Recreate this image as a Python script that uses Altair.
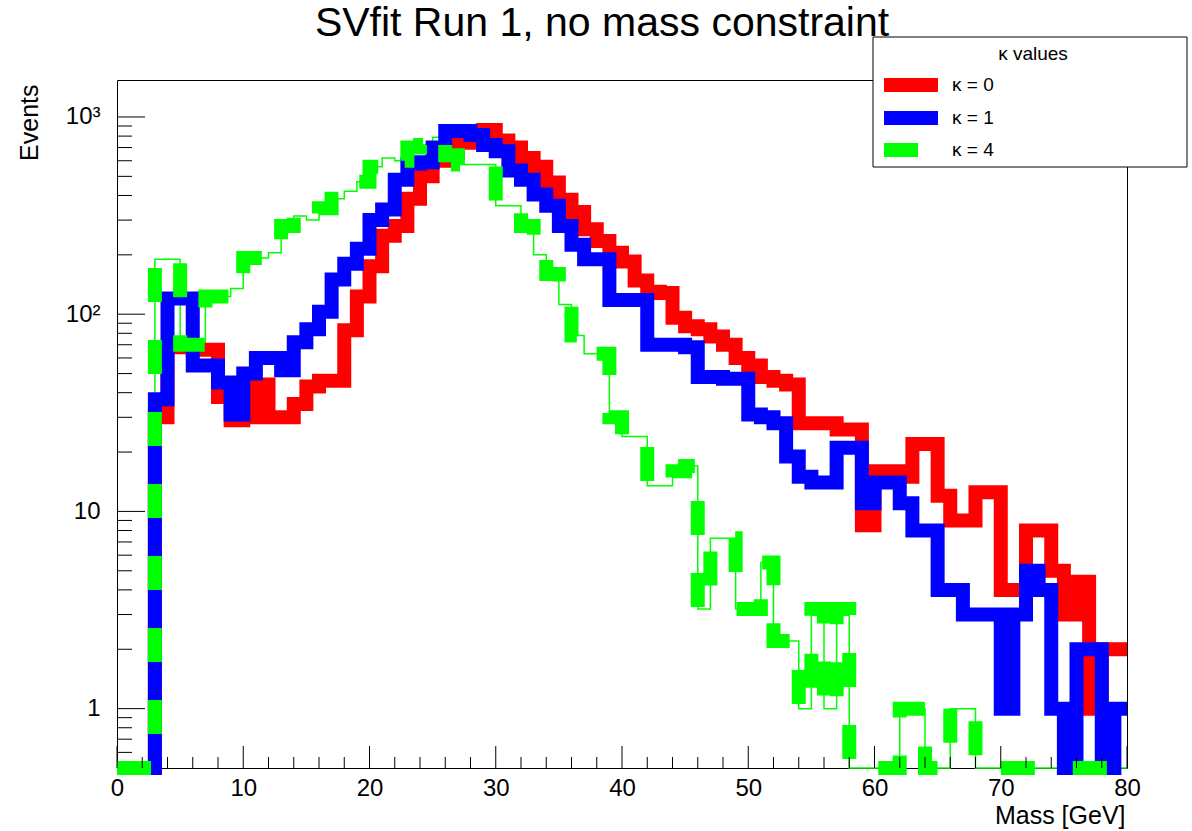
import altair as alt
import pandas as pd

# ---------------- data ----------------
EDGES = list(range(0, 81))          # bin edges, 1 GeV bins from 0 to 80 GeV

K0 = [0, 0, 0, 30, 68, 68, 66, 66, 38, 29,
      30, 44, 30, 30, 35, 43, 46, 46, 83, 123,
      175, 250, 280, 385, 500, 600, 660, 740, 850, 860,
      760, 700, 620, 560, 465, 380, 330, 270, 235, 205,
      185, 148, 130, 128, 96, 87, 84, 77, 70, 60,
      55, 48, 46, 44, 28, 28, 28, 26, 26, 8.5,
      16, 16, 15, 22, 22, 12, 9, 9, 12.5, 12.5,
      4, 4, 8, 8, 5, 3, 4.4, 1, 2, 2]

K1 = [0, 0, 0, 37, 120, 120, 55, 55, 45, 31,
      50, 60, 60, 52, 72, 84, 103, 150, 180, 215,
      300, 340, 480, 580, 590, 700, 850, 850, 810, 720,
      670, 535, 480, 405, 355, 280, 225, 190, 190, 118,
      118, 118, 70, 70, 70, 68, 48, 48, 47, 47,
      31, 30, 28, 19, 15, 14, 14, 21, 21, 11,
      14, 14, 11, 8, 8, 4, 4, 3, 3, 3,
      1, 3, 5, 4, 1, 0, 2, 2, 0, 1]

K4 = [0, 0, 0, 190, 190, 70, 70, 123, 123, 135,
      193, 193, 205, 280, 315, 300, 345, 385, 420, 470,
      560, 620, 600, 700, 720, 790, 640, 575, 575, 575,
      355, 355, 280, 200, 160, 112, 78, 63, 63, 30,
      24, 24, 13.5, 13.5, 16, 17, 3.2, 7.3, 7.3, 3.2,
      3.2, 5.5, 2.2, 2.2, 1, 3.2, 1, 3.2, 0, 0,
      0, 0, 1, 1, 0, 0, 1, 1, 0, 0,
      0, 0, 0, 0, 0, 0, 0, 0, 0, 0]

SERIES = ["κ = 0", "κ = 1", "κ = 4"]
COLORS = ["#ff0000", "#0000ff", "#00ff00"]
TITLE = "SVfit Run 1, no mass constraint"

X_MAJOR = [0, 10, 20, 30, 40, 50, 60, 70, 80]
X_MINOR = [v for v in range(2, 80, 2) if v % 10 != 0]
Y_MAJOR = [1, 10, 100, 1000]
Y_MINOR = [0.6, 0.7, 0.8, 0.9] + [m * d for d in (1, 10, 100) for m in range(2, 10)]

YMIN, YMAX = 0.5, 1540
FONT = "Liberation Sans"
W, H = 1010, 688


def steps(vals):
    ys = [max(v, YMIN) for v in vals] + [max(vals[-1], YMIN)]
    return pd.DataFrame({"x": EDGES, "y": ys})


xs = alt.Scale(domain=[0, 80], nice=False, zero=False)
ys = alt.Scale(type="log", domain=[YMIN, YMAX], nice=False)

xaxis = alt.Axis(values=X_MAJOR, ticks=False, domain=False, grid=False,
                 labelFont=FONT, labelFontSize=24, labelColor="black",
                 labelPadding=8, labelFlush=False, labelOverlap=False,
                 title="Mass [GeV]", titleFont=FONT, titleFontSize=25,
                 titleFontWeight="normal", titleColor="black",
                 titleAnchor="end", titleAlign="right", titleBaseline="middle",
                 titleX=1008, titleY=47)
yaxis = alt.Axis(values=Y_MAJOR, ticks=False, domain=False, grid=False,
                 labelExpr="datum.value >= 1000 ? '10³' : datum.value >= 100 ? '10²' : datum.value >= 10 ? '10' : '1'",
                 labelFont=FONT, labelFontSize=24, labelColor="black",
                 labelPadding=17, labelOverlap=False, labelFlush=False,
                 title="Events", titleFont=FONT, titleFontSize=25,
                 titleFontWeight="normal", titleColor="black",
                 titleAngle=270, titleAlign="right", titleBaseline="middle",
                 titleX=-88, titleY=4)

X_ENC = alt.X("x:Q", scale=xs, axis=xaxis)
Y_ENC = alt.Y("y:Q", scale=ys, axis=yaxis)

LW = 14
DASH = [34, 38]

thin_green = alt.Chart(steps(K4)).mark_line(
    interpolate="step-after", color=COLORS[2], strokeWidth=1.5
).encode(x=X_ENC, y=Y_ENC)

red = alt.Chart(steps(K0)).mark_line(
    interpolate="step-after", color=COLORS[0], strokeWidth=LW,
    strokeJoin="miter", strokeCap="butt"
).encode(x=X_ENC, y=Y_ENC)

blue = alt.Chart(steps(K1)).mark_line(
    interpolate="step-after", color=COLORS[1], strokeWidth=LW,
    strokeJoin="miter", strokeCap="butt"
).encode(x=X_ENC, y=Y_ENC)

green = alt.Chart(steps(K4)).mark_line(
    interpolate="step-after", color=COLORS[2], strokeWidth=LW,
    strokeJoin="miter", strokeCap="butt", strokeDash=DASH
).encode(x=X_ENC, y=Y_ENC)

ytick_major = alt.Chart(pd.DataFrame({"y": Y_MAJOR})).mark_rule(
    color="black", strokeWidth=1).encode(y=Y_ENC, x=alt.value(0), x2=alt.value(28))
ytick_minor = alt.Chart(pd.DataFrame({"y": Y_MINOR})).mark_rule(
    color="black", strokeWidth=1).encode(y=Y_ENC, x=alt.value(0), x2=alt.value(15))
xtick_major = alt.Chart(pd.DataFrame({"x": X_MAJOR})).mark_rule(
    color="black", strokeWidth=1).encode(x=X_ENC, y=alt.value(H), y2=alt.value(H - 22))
xtick_minor = alt.Chart(pd.DataFrame({"x": X_MINOR})).mark_rule(
    color="black", strokeWidth=1).encode(x=X_ENC, y=alt.value(H), y2=alt.value(H - 11))

one = pd.DataFrame({"a": [0]})

# ---------------- title ----------------
title = alt.Chart(one).mark_text(font=FONT, fontSize=41, align="center",
                                 baseline="alphabetic", color="black").encode(
    x=alt.value(485), y=alt.value(-44), text=alt.value(TITLE))

# ---------------- legend box (ROOT TLegend style) ----------------
leg_box = alt.Chart(one).mark_rect(fill="white", stroke="black", strokeWidth=1).encode(
    x=alt.value(756), x2=alt.value(1070), y=alt.value(-43), y2=alt.value(87))
leg_title = alt.Chart(one).mark_text(font=FONT, fontSize=19, align="center",
                                     baseline="middle", color="black").encode(
    x=alt.value(916), y=alt.value(-26), text=alt.value("κ values"))
leg_layers = [leg_box, leg_title]
LEG_Y = [5, 38, 70]
for i in range(3):
    kw = dict(color=COLORS[i], strokeWidth=LW)
    if i == 2:
        kw["strokeDash"] = DASH
    leg_layers.append(alt.Chart(one).mark_rule(**kw).encode(
        x=alt.value(767), x2=alt.value(821), y=alt.value(LEG_Y[i])))
    leg_layers.append(alt.Chart(one).mark_text(font=FONT, fontSize=19, align="left",
                                               baseline="middle", color="black").encode(
        x=alt.value(835), y=alt.value(LEG_Y[i]), text=alt.value(SERIES[i])))

chart = alt.layer(
    thin_green, red, blue, green,
    ytick_major, ytick_minor, xtick_major, xtick_minor,
    title, *leg_layers
).properties(
    width=W, height=H,
    padding={"left": 117, "top": 80, "right": 65, "bottom": 63},
    autosize=alt.AutoSizeParams(type="none"),
).configure(background="white").configure_view(stroke="black", strokeWidth=1)

chart.save("out.html", embed_options={"renderer": "svg", "actions": False})
